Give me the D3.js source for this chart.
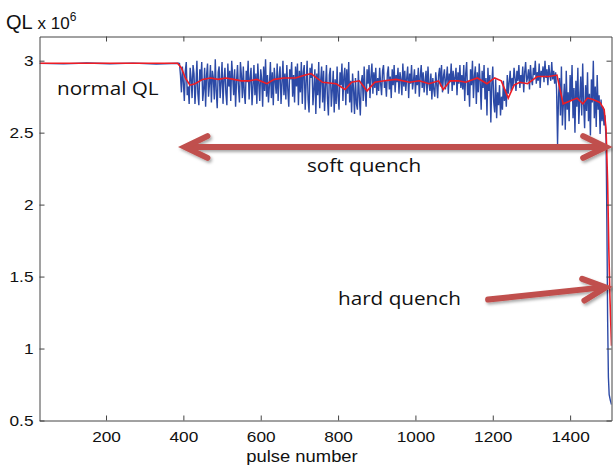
<!DOCTYPE html>
<html>
<head>
<meta charset="utf-8">
<script src="https://cdn.jsdelivr.net/npm/d3@7"></script>
<style>
  body { margin: 0; background: #fff; }
  svg { display: block; }
</style>
</head>
<body>
<svg id="chart" width="613" height="468"></svg>
<script>
// flat part before the soft quench
var flatPulses = [28, 90, 150, 210, 270, 330, 388];
var flatBlue = [2.981, 2.978, 2.984, 2.979, 2.983, 2.977, 2.982];

// noisy part, one value every 2.5 pulses, read segment by segment
var noisyStep = 2.5;
var segStarts = [390, 422.5, 702.5, 902.5, 1122.5, 1252.5, 1362.5];
var segA = [2.98, 2.90, 2.78, 2.96, 2.85, 2.72, 2.93, 2.99, 2.76, 2.82, 2.70, 2.95, 2.88];
var segB = [
  2.74, 2.97, 2.91, 2.70, 2.83, 3.00, 2.77, 2.69,
  2.94, 2.86, 2.99, 2.72, 2.80, 2.95, 2.68, 2.90,
  2.98, 2.75, 2.84, 2.97, 2.71, 2.93, 2.88, 2.73,
  3.01, 2.79, 2.67, 2.92, 2.96, 2.74, 2.85, 2.99,
  2.70, 2.87, 2.95, 2.77, 2.69, 2.98, 2.82, 2.93,
  2.72, 3.00, 2.89, 2.76, 2.94, 2.68, 2.86, 2.97,
  2.81, 2.71, 2.99, 2.90, 2.74, 2.96, 2.78, 2.70,
  2.93, 2.85, 3.00, 2.73, 2.88, 2.95, 2.69, 2.82,
  2.97, 2.76, 2.91, 2.70, 2.98, 2.84, 2.72, 2.94,
  2.87, 2.68, 2.96, 2.79, 3.01, 2.75, 2.90, 2.71,
  2.83, 2.99, 2.74, 2.92, 2.69, 2.95, 2.86, 2.77,
  2.98, 2.72, 2.89, 2.96, 2.70, 2.84, 3.00, 2.76,
  2.91, 2.73, 2.97, 2.80, 2.68, 2.94, 2.87, 2.99,
  2.75, 2.90, 2.71, 2.96, 2.82, 2.98, 2.69, 2.93];
var segC = [
  2.78, 2.99, 2.70, 2.92, 2.97, 2.66, 2.85, 3.00,
  2.73, 2.64, 2.95, 2.88, 2.98, 2.69, 2.80, 2.94,
  2.63, 2.91, 2.76, 2.99, 2.67, 2.86, 2.96, 2.71,
  2.93, 2.65, 2.82, 2.97, 2.74, 2.62, 2.90, 2.95,
  2.68, 2.79, 2.93, 2.64, 2.87, 2.70, 2.96, 2.75,
  2.66, 2.92, 2.83, 2.98, 2.72, 2.89, 2.95, 2.69,
  2.94, 2.77, 2.99, 2.71, 2.86, 2.64, 2.91, 2.80,
  2.63, 2.88, 2.70, 2.66, 2.93, 2.75, 2.62, 2.85,
  2.90, 2.72, 2.96, 2.79, 2.68, 2.94, 2.84, 2.97,
  2.74, 2.89, 2.98, 2.77, 2.92, 2.81, 2.95, 2.76];
var segD = [
  2.88, 2.79, 2.95, 2.84, 2.76, 2.93, 2.97, 2.81,
  2.86, 2.75, 2.91, 2.96, 2.80, 2.89, 2.74, 2.94,
  2.83, 2.97, 2.78, 2.90, 2.85, 2.95, 2.77, 2.92,
  2.87, 2.76, 2.98, 2.82, 2.93, 2.79, 2.88, 2.96,
  2.74, 2.91, 2.84, 2.97, 2.80, 2.86, 2.94, 2.77,
  2.90, 2.83, 2.95, 2.75, 2.89, 2.97, 2.81, 2.92,
  2.78, 2.86, 2.93, 2.76, 2.96, 2.84, 2.79, 2.91,
  2.73, 2.88, 2.80, 2.75, 2.92, 2.84, 2.74, 2.90,
  2.95, 2.82, 2.97, 2.78, 2.89, 2.94, 2.80, 2.87,
  2.96, 2.77, 2.91, 2.85, 2.98, 2.79, 2.93, 2.83,
  2.88, 2.95, 2.76, 2.92, 2.84, 2.97, 2.81, 2.90];
var segE = [
  2.80, 2.97, 2.72, 2.91, 2.99, 2.76, 2.86, 2.68,
  2.94, 2.83, 3.00, 2.74, 2.89, 2.96, 2.70, 2.92,
  2.78, 2.98, 2.85, 2.66, 2.93, 2.81, 2.97, 2.73,
  2.88, 2.62, 2.95, 2.79, 2.90, 2.57, 2.84, 2.96,
  2.71, 2.64, 2.87, 2.60, 2.78, 2.69, 2.83, 2.62,
  2.75, 2.66, 2.86, 2.72, 2.80, 2.68, 2.90, 2.77,
  2.85, 2.93, 2.79, 2.88];
var segF = [
  2.82, 2.95, 2.88, 2.79, 2.93, 2.86, 2.97, 2.81,
  2.90, 2.84, 2.96, 2.78, 2.92, 2.99, 2.85, 2.88,
  2.94, 2.80, 2.97, 2.87, 2.83, 2.95, 2.90, 3.00,
  2.84, 2.92, 2.86, 2.98, 2.81, 2.93, 2.89, 2.96,
  2.85, 3.00, 2.88, 2.94, 2.83, 2.97, 2.90, 2.86,
  2.99, 2.87, 2.93, 2.84];
var segG = [
  2.92, 2.80, 2.42, 2.75, 2.88, 2.62, 2.96, 2.55,
  2.70, 2.84, 2.52, 2.93, 2.66, 2.78, 2.58, 2.90,
  2.72, 2.97, 2.60, 2.81, 2.50, 2.86, 2.68, 2.95,
  2.56, 2.74, 2.89, 2.62, 2.98, 2.70, 2.53, 2.83,
  2.65, 2.92, 2.58, 2.77, 2.48, 2.87, 2.71, 3.00,
  2.60, 2.82, 2.54, 2.90, 2.66, 2.76, 2.49, 2.73,
  2.58, 2.68, 2.55, 2.62];

// hard quench collapse
var tailPulses = [1493, 1495, 1497, 1499, 1501, 1504, 1507];
var tailBlue = [2.45, 1.9, 1.2, 0.8, 0.68, 0.64, 0.61];

// red running mean
var redPulses = [28, 385, 395, 405, 417, 430, 450, 470, 490, 510, 530, 550, 570, 590, 616, 635,
  660, 690, 715, 730, 760, 795, 818, 835, 855, 875, 895, 920, 950, 985, 1010, 1035,
  1060, 1072, 1090, 1110, 1130, 1160, 1185, 1205, 1222, 1240, 1255, 1270, 1290, 1315,
  1345, 1366, 1374, 1382, 1400, 1418, 1433, 1445, 1459, 1477, 1488, 1493, 1497, 1500, 1503, 1507];
var redValues = [2.982, 2.982, 2.95, 2.88, 2.83, 2.84, 2.87, 2.88, 2.87, 2.88, 2.87, 2.86, 2.86, 2.87, 2.84, 2.87,
  2.88, 2.88, 2.90, 2.91, 2.85, 2.84, 2.80, 2.85, 2.86, 2.79, 2.85, 2.86, 2.87, 2.85, 2.86, 2.84,
  2.86, 2.80, 2.86, 2.86, 2.85, 2.88, 2.84, 2.88, 2.86, 2.74, 2.83, 2.85, 2.84, 2.89,
  2.89, 2.90, 2.80, 2.70, 2.72, 2.74, 2.70, 2.74, 2.73, 2.71, 2.66, 2.52, 2.15, 1.70, 1.35, 1.02];

var xTicks = [200, 400, 600, 800, 1000, 1200, 1400];
var yTicks = [0.5, 1, 1.5, 2, 2.5, 3];

var blue = [];
flatPulses.forEach(function(p, i) { blue.push([p, flatBlue[i]]); });
[segA, segB, segC, segD, segE, segF, segG].forEach(function(seg, s) {
  seg.forEach(function(v, i) { blue.push([segStarts[s] + i * noisyStep, v]); });
});
tailPulses.forEach(function(p, i) { blue.push([p, tailBlue[i]]); });
var red = redPulses.map(function(p, i) { return [p, redValues[i]]; });

var svg = d3.select("#chart");
var plotLeft = 39.5, plotRight = 611.5, plotTop = 36.5, plotBottom = 420.5;
var stretch = 1.15;

var x = d3.scaleLinear().domain([28, 1507]).range([plotLeft, plotRight]);
var y = d3.scaleLinear().domain([0.5, 3.168]).range([plotBottom, plotTop]);

var defs = svg.append("defs");
defs.append("clipPath").attr("id", "plotclip")
  .append("rect")
  .attr("x", plotLeft).attr("y", plotTop)
  .attr("width", plotRight - plotLeft).attr("height", plotBottom - plotTop);
var shadow = defs.append("filter").attr("id", "shadow")
  .attr("filterUnits", "userSpaceOnUse")
  .attr("x", 0).attr("y", 0).attr("width", 613).attr("height", 468);
shadow.append("feDropShadow")
  .attr("dx", 1.5).attr("dy", 2).attr("stdDeviation", 1.4)
  .attr("flood-color", "#000").attr("flood-opacity", 0.35);

var line = d3.line()
  .x(function(d) { return x(d[0]); })
  .y(function(d) { return y(d[1]); });

var plot = svg.append("g").attr("clip-path", "url(#plotclip)");
plot.append("path")
  .datum(blue)
  .attr("d", line)
  .attr("fill", "none")
  .attr("stroke", "#2c4aa6")
  .attr("stroke-width", 1.4);
plot.append("path")
  .datum(red)
  .attr("d", line)
  .attr("fill", "none")
  .attr("stroke", "#ee1c24")
  .attr("stroke-width", 1.6);

// axes, MATLAB box style with inward ticks
var axisColor = "#444";
function styleAxis(g) {
  g.select(".domain").attr("stroke", axisColor);
  g.selectAll(".tick line").attr("stroke", axisColor);
  g.selectAll(".tick text")
    .attr("fill", "#111")
    .attr("font-family", "'Liberation Sans', Arial, sans-serif")
    .attr("font-size", 15);
}

var gx = svg.append("g")
  .attr("transform", "translate(0," + plotBottom + ")")
  .call(d3.axisBottom(x).tickValues(xTicks).tickFormat(d3.format("d"))
    .tickSizeInner(-5).tickSizeOuter(0).tickPadding(11));
styleAxis(gx);
gx.selectAll(".tick text").attr("transform", "scale(" + stretch + ",1)");

var gy = svg.append("g")
  .attr("transform", "translate(" + plotLeft + ",0)")
  .call(d3.axisLeft(y).tickValues(yTicks).tickFormat(d3.format("")).tickSizeInner(-5).tickSizeOuter(0));
styleAxis(gy);
gy.selectAll(".tick text").attr("x", 0)
  .attr("transform", "translate(-6,0) scale(" + stretch + ",1)");

var gxTop = svg.append("g")
  .attr("transform", "translate(0," + plotTop + ")")
  .call(d3.axisTop(x).tickValues(xTicks).tickSizeInner(-5).tickSizeOuter(0).tickFormat(""));
styleAxis(gxTop);

var gyRight = svg.append("g")
  .attr("transform", "translate(" + plotRight + ",0)")
  .call(d3.axisRight(y).tickValues(yTicks).tickSizeInner(-5).tickSizeOuter(0).tickFormat(""));
styleAxis(gyRight);

// axis labels
svg.append("text")
  .attr("transform", "translate(302,462) scale(" + stretch + ",1)")
  .attr("text-anchor", "middle")
  .attr("font-family", "'Liberation Sans', Arial, sans-serif")
  .attr("font-size", 16)
  .attr("fill", "#111")
  .text("pulse number");

var ylab = svg.append("text")
  .attr("x", 6).attr("y", 29)
  .attr("font-family", "'Liberation Sans', Arial, sans-serif")
  .attr("fill", "#111");
ylab.append("tspan").attr("font-size", 20).text("QL ");
ylab.append("tspan").attr("font-size", 17).text("x 10");
ylab.append("tspan").attr("font-size", 12).attr("dy", -8).text("6");

// annotations
function note(str, px, py) {
  svg.append("text")
    .attr("transform", "translate(" + px + "," + py + ") scale(" + stretch + ",1)")
    .attr("font-family", "'Open Sans', 'Noto Sans', sans-serif")
    .attr("font-size", 18)
    .attr("fill", "#111")
    .text(str);
}
note("normal QL", 57, 95);
note("soft quench", 307, 172);
note("hard quench", 338, 305);

var arrowColor = "#c0504d";
function head(g, tx, ty, fx, fy) {
  // arrow head at (tx,ty) pointing away from (fx,fy)
  var ang = Math.atan2(ty - fy, tx - fx);
  var len = 25, spread = 0.45;
  var a1 = [tx - len * Math.cos(ang - spread), ty - len * Math.sin(ang - spread)];
  var a2 = [tx - len * Math.cos(ang + spread), ty - len * Math.sin(ang + spread)];
  g.append("path")
    .attr("d", "M" + a1 + "L" + tx + "," + ty + "L" + a2)
    .attr("fill", "none")
    .attr("stroke", arrowColor)
    .attr("stroke-width", 6)
    .attr("stroke-linecap", "round")
    .attr("stroke-linejoin", "miter");
}
function arrow(x1, y1, x2, y2, both) {
  var g = svg.append("g").attr("filter", "url(#shadow)");
  g.append("line")
    .attr("x1", x1 + (both ? 3 : 0)).attr("y1", y1)
    .attr("x2", x2 - 3).attr("y2", y2)
    .attr("stroke", arrowColor)
    .attr("stroke-width", 6)
    .attr("stroke-linecap", "round");
  head(g, x2, y2, x1, y1);
  if (both) head(g, x1, y1, x2, y2);
}
arrow(x(404), y(2.40), x(1492), y(2.40), true);
arrow(x(1188), y(1.34), x(1492), y(1.425), false);
</script>
</body>
</html>
